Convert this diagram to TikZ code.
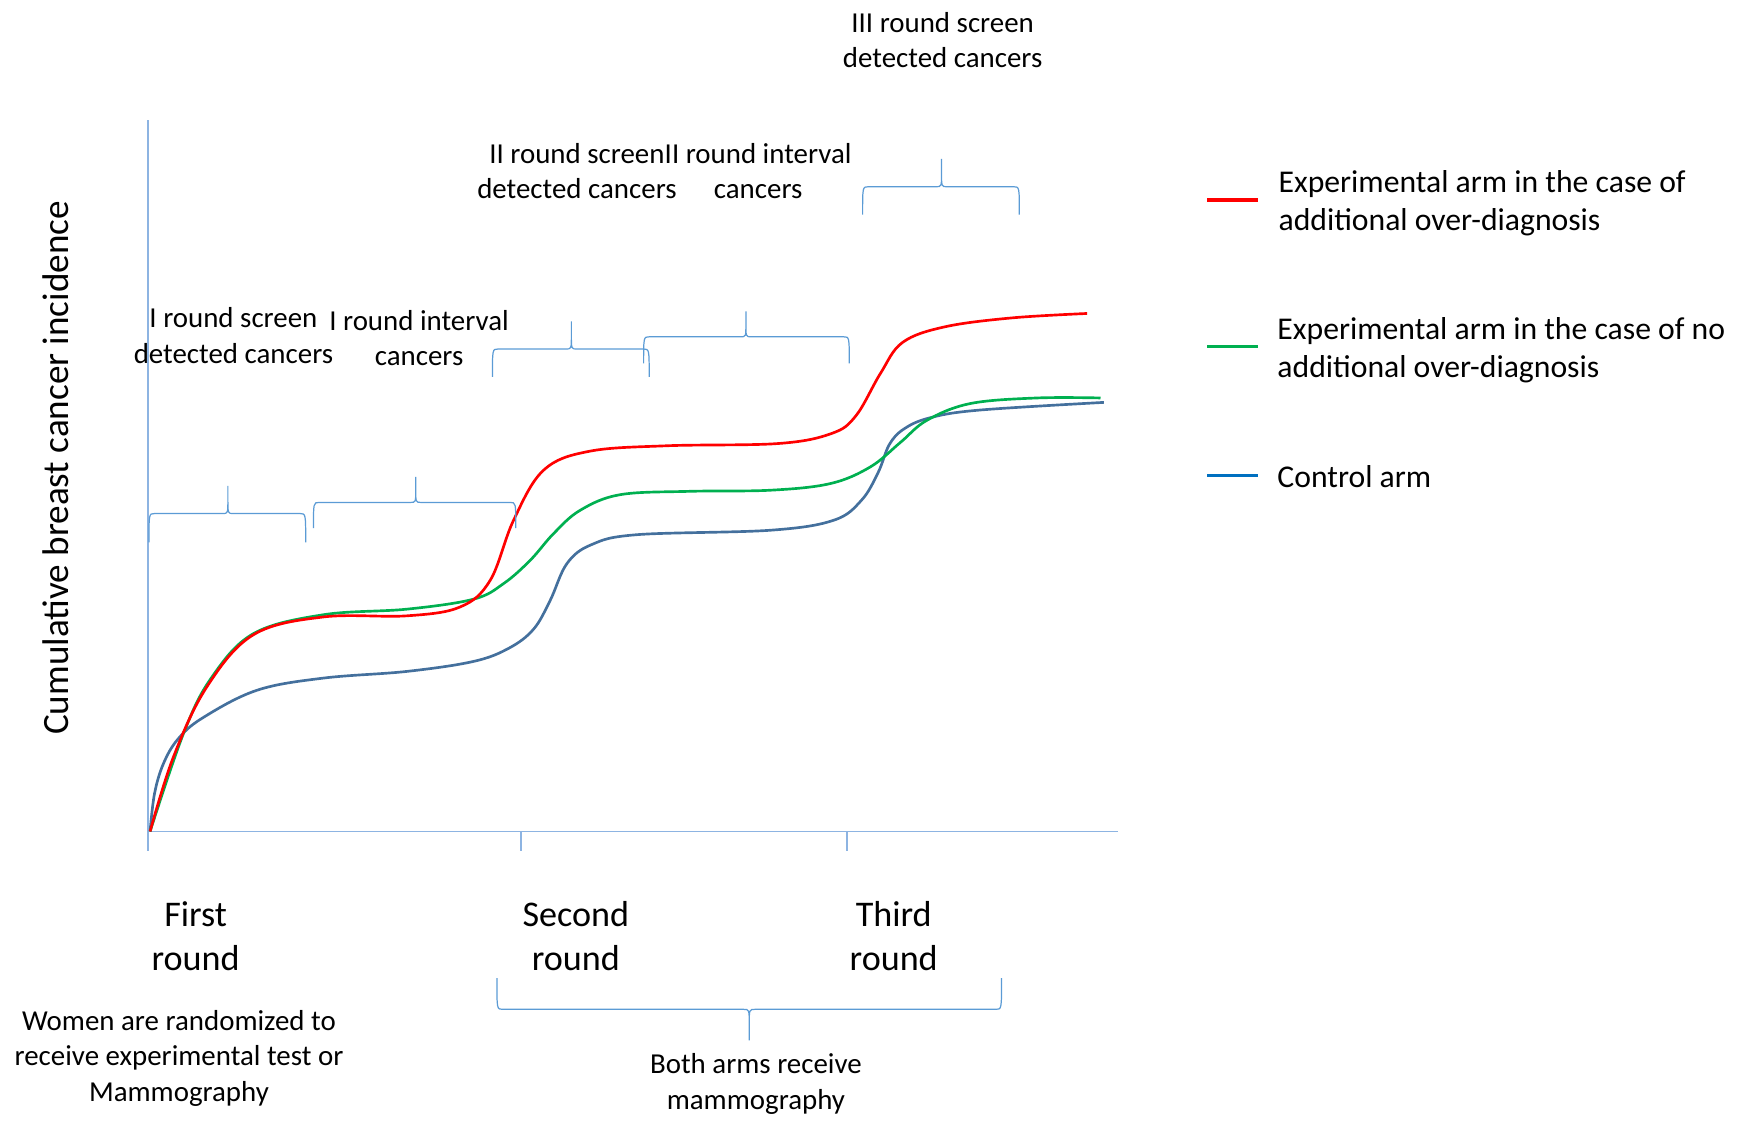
\documentclass[tikz,border=0pt]{standalone}
\usepackage{fontspec}
\setmainfont{Carlito}
\definecolor{axisblue}{HTML}{8DB4E2}
\definecolor{braceblue}{HTML}{5B9BD5}
\definecolor{ctrlblue}{HTML}{44709D}
\definecolor{legblue}{HTML}{0070C0}
\definecolor{expgreen}{HTML}{00B050}
\definecolor{expred}{HTML}{FF0000}
\newcommand{\mybrace}[6]{% x1, x2, xm, yh, yend, ytip
  \draw[bracestyle] (#1,#5) .. controls (#1,#4) .. (#1+5,#4) -- (#3-5,#4)
    .. controls (#3,#4) .. ($(#3,#4)!0.5!(#3,#6)$) -- (#3,#6)
    ($(#3,#4)!0.5!(#3,#6)$) .. controls (#3,#4) .. (#3+5,#4) -- (#2-5,#4)
    .. controls (#2,#4) .. (#2,#5);}
\usetikzlibrary{calc}
\begin{document}
\begin{tikzpicture}[x=1pt,y=-1pt,
  axisline/.style={draw=axisblue, line width=1.6pt},
  bracestyle/.style={draw=braceblue, line width=1.1pt},
  curve/.style={line width=2.4pt, smooth, tension=0.6, line join=round},
  leg/.style={line width=3pt},
  lbl/.style={font=\fontsize{26}{32}\selectfont, align=center, inner sep=0pt},
  legtxt/.style={font=\fontsize{28.5}{34}\selectfont, align=left, inner sep=0pt, anchor=west},
  roundlbl/.style={font=\fontsize{32.5}{40}\selectfont, align=center, inner sep=0pt}]
\useasboundingbox (0,0) rectangle (1568,1011);
% axes
\coordinate (ytop) at (133,108);
\coordinate (ybot) at (133,766);
\coordinate (xl) at (133,748);
\coordinate (xr) at (1006,748);
\coordinate (t1a) at (469,748); \coordinate (t1b) at (469,766);
\coordinate (t2a) at (762,748); \coordinate (t2b) at (762,766);
\draw[axisline] (ytop) -- (ybot);
\draw[axisline] (xl) -- (xr);
\draw[axisline] (t1a) -- (t1b);
\draw[axisline] (t2a) -- (t2b);
% curves
\draw[curve, ctrlblue] plot coordinates {(135,748) (139,714) (147,687) (160,665) (182,646) (231,621) (291,610) (366,604) (426,595) (458,583) (480,566) (495,540) (510,507) (532,490) (573,481) (693,477) (750,468) (775,450) (790,425) (800,400) (813,386) (836,376) (880,369) (993,362)};
\draw[curve, expgreen] plot coordinates {(135,748) (165,660) (190,610) (228,570) (291,553) (366,548) (426,539) (453,525) (477,504) (498,480) (522,459) (558,445) (620,442) (693,441) (747,435) (783,420) (810,398) (834,378) (873,363) (933,358) (990,358)};
\draw[curve, expred] plot coordinates {(135,748) (156,681) (186,618) (228,571) (291,555) (366,554) (414,546) (441,522) (462,468) (489,423) (530,406) (600,401) (700,399) (748,390) (770,374) (792,336) (812,308) (850,294) (910,286) (978,282)};
% braces
\mybrace{134}{275}{205}{462}{488}{437}
\mybrace{282}{464}{374}{452}{475}{429}
\mybrace{443}{584}{514}{314}{339}{289}
\mybrace{579}{764}{671}{303}{327}{280}
\mybrace{776}{917}{847}{168}{193}{143}
\mybrace{447}{901}{674}{908}{880}{936}
% labels
\node[lbl] (l1) at (210,302) {I round screen\\detected cancers};
\node[lbl] (l2) at (377,304) {I round interval\\cancers};
\node[lbl] (l3) at (519,154) {II round screen\\detected cancers};
\node[lbl] (l4) at (682,154) {II round interval\\cancers};
\node[lbl] (l5) at (848,36) {III round screen\\detected cancers};
\node[font=\fontsize{33.4}{40}\selectfont, inner sep=0pt, rotate=90] (ylab) at (50,421) {Cumulative breast cancer incidence};
% legend
\coordinate (r1) at (1086,180); \coordinate (r2) at (1132,180);
\coordinate (g1) at (1086,312); \coordinate (g2) at (1132,312);
\coordinate (b1) at (1086,428); \coordinate (b2) at (1132,428);
\draw[leg, expred] (r1) -- (r2);
\draw[leg, expgreen] (g1) -- (g2);
\draw[leg, legblue] (b1) -- (b2);
\node[legtxt] (lg1) at (1150,183) {Experimental arm in the case of\\additional over-diagnosis};
\node[legtxt] (lg2) at (1149,315) {Experimental arm in the case of no\\additional over-diagnosis};
\node[legtxt] (lg3) at (1149,429) {Control arm};
% bottom
\node[roundlbl] (fr) at (176,842) {First\\round};
\node[roundlbl] (sr) at (518,842) {Second\\round};
\node[roundlbl] (tr) at (804,842) {Third\\round};
\node[lbl] (wm) at (161,952) {Women are randomized to\\receive experimental test or\\Mammography};
\node[lbl] (ba) at (680,975) {Both arms receive\\mammography};
\end{tikzpicture}
\end{document}
